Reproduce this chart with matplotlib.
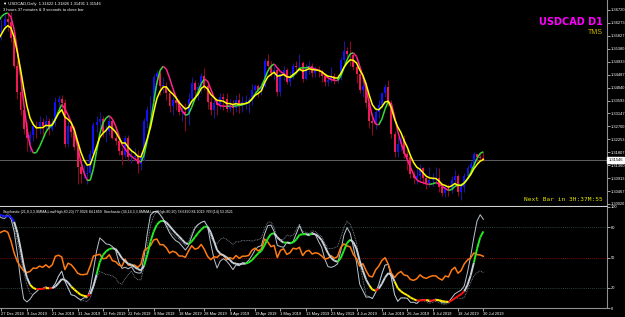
import matplotlib.pyplot as plt
from matplotlib.collections import LineCollection
import numpy as np
import pandas as pd

plt.rcParams["font.family"] = ["Liberation Sans", "DejaVu Sans"]

# Daily USDCAD bars, Oct 29 2018 .. Jul 30 2019 (first 42 bars are only history for the indicators)
closes = [
    1.3120, 1.3155, 1.3155, 1.3095, 1.3135, 1.3125, 1.3115, 1.3110, 1.3160, 1.3215,
    1.3250, 1.3225, 1.3240, 1.3160, 1.3130, 1.3160, 1.3265, 1.3240, 1.3250, 1.3245,
    1.3275, 1.3320, 1.3265, 1.3300, 1.3290, 1.3255, 1.3330, 1.3385, 1.3380, 1.3345,
    1.3375, 1.3365, 1.3340, 1.3370, 1.3390, 1.3420, 1.3440, 1.3520, 1.3560, 1.3600,
    1.3625, 1.3585,
    # Dec 27 ->
    1.3615, 1.3640, 1.3630, 1.3575, 1.3480, 1.3390, 1.3325, 1.3260, 1.3230, 1.3240,
    1.3270, 1.3265, 1.3285, 1.3270, 1.3290, 1.3260, 1.3280, 1.3355, 1.3365, 1.3350,
    1.3210, 1.3270, 1.3250, 1.3200, 1.3130, 1.3105, 1.3105, 1.3110, 1.3175, 1.3275,
    1.3285, 1.3295, 1.3250, 1.3255, 1.3290, 1.3230, 1.3220, 1.3185, 1.3170, 1.3230,
    1.3165, 1.3165, 1.3165, 1.3140, 1.3165, 1.3290, 1.3325, 1.3355, 1.3440, 1.3455,
    1.3410, 1.3410, 1.3385, 1.3340, 1.3360, 1.3350, 1.3320, 1.3320, 1.3310, 1.3365,
    1.3420, 1.3395, 1.3405, 1.3445, 1.3410, 1.3355, 1.3325, 1.3350, 1.3345, 1.3370,
    1.3365, 1.3330, 1.3345, 1.3335, 1.3360, 1.3340, 1.3355, 1.3355, 1.3360, 1.3395,
    1.3410, 1.3395, 1.3410, 1.3495, 1.3480, 1.3455, 1.3465, 1.3390, 1.3450, 1.3465,
    1.3425, 1.3440, 1.3480, 1.3475, 1.3490, 1.3435, 1.3470, 1.3480, 1.3455, 1.3465,
    1.3460, 1.3445, 1.3425, 1.3430, 1.3445, 1.3430, 1.3440, 1.3500, 1.3530, 1.3520,
    1.3515, 1.3475, 1.3450, 1.3395, 1.3410, 1.3350, 1.3290, 1.3280, 1.3320, 1.3345,
    1.3385, 1.3405, 1.3350, 1.3245, 1.3180, 1.3210, 1.3225, 1.3175, 1.3165, 1.3105,
    1.3090, 1.3100, 1.3125, 1.3090, 1.3075, 1.3085, 1.3090, 1.3090, 1.3060, 1.3040,
    1.3060, 1.3050, 1.3085, 1.3100, 1.3045, 1.3060, 1.3100, 1.3125, 1.3140, 1.3175,
    1.3165, 1.31622, 1.31546,
]
highs = [
    1.3135, 1.3170, 1.3170, 1.3160, 1.3145, 1.3150, 1.3140, 1.3135, 1.3175, 1.3225,
    1.3265, 1.3260, 1.3260, 1.3245, 1.3170, 1.3175, 1.3275, 1.3270, 1.3265, 1.3265,
    1.3290, 1.3330, 1.3325, 1.3310, 1.3310, 1.3285, 1.3345, 1.3390, 1.3445, 1.3400,
    1.3385, 1.3385, 1.3375, 1.3385, 1.3405, 1.3430, 1.3450, 1.3535, 1.3575, 1.3610,
    1.3640, 1.3660,
    1.3640, 1.3665, 1.3660, 1.3665, 1.3590, 1.3500, 1.3410, 1.3345, 1.3285, 1.3255,
    1.3285, 1.3290, 1.3305, 1.3300, 1.3310, 1.3300, 1.3300, 1.3370, 1.3380, 1.3380,
    1.3365, 1.3290, 1.3290, 1.3270, 1.3215, 1.3160, 1.3135, 1.3140, 1.3190, 1.3285,
    1.3305, 1.3320, 1.3305, 1.3275, 1.3310, 1.3290, 1.3240, 1.3230, 1.3195, 1.3240,
    1.3240, 1.3190, 1.3195, 1.3190, 1.3180, 1.3300, 1.3340, 1.3375, 1.3450, 1.3465,
    1.3470, 1.3440, 1.3425, 1.3395, 1.3375, 1.3375, 1.3365, 1.3340, 1.3350, 1.3385,
    1.3440, 1.3430, 1.3425, 1.3455, 1.3470, 1.3420, 1.3370, 1.3360, 1.3365, 1.3385,
    1.3385, 1.3385, 1.3365, 1.3360, 1.3380, 1.3385, 1.3375, 1.3380, 1.3370, 1.3415,
    1.3415, 1.3415, 1.3425, 1.3505, 1.3520, 1.3495, 1.3480, 1.3475, 1.3455, 1.3480,
    1.3470, 1.3460, 1.3490, 1.3495, 1.3520, 1.3495, 1.3485, 1.3495, 1.3490, 1.3480,
    1.3480, 1.3465, 1.3455, 1.3445, 1.3475, 1.3455, 1.3450, 1.3510, 1.3565, 1.3545,
    1.3565, 1.3525, 1.3490, 1.3460, 1.3430, 1.3425, 1.3360, 1.3305, 1.3335, 1.3360,
    1.3390, 1.3415, 1.3430, 1.3360, 1.3255, 1.3235, 1.3240, 1.3240, 1.3190, 1.3175,
    1.3115, 1.3125, 1.3140, 1.3130, 1.3100, 1.3130, 1.3110, 1.3130, 1.3125, 1.3075,
    1.3070, 1.3070, 1.3100, 1.3120, 1.3105, 1.3075, 1.3110, 1.3135, 1.3150, 1.3180,
    1.3175, 1.3180, 1.31826,
]
lows = [
    1.3080, 1.3105, 1.3130, 1.3080, 1.3070, 1.3110, 1.3100, 1.3085, 1.3100, 1.3150,
    1.3200, 1.3210, 1.3200, 1.3150, 1.3125, 1.3125, 1.3150, 1.3215, 1.3225, 1.3220,
    1.3235, 1.3260, 1.3255, 1.3260, 1.3270, 1.3235, 1.3250, 1.3320, 1.3360, 1.3320,
    1.3335, 1.3345, 1.3325, 1.3325, 1.3355, 1.3375, 1.3400, 1.3430, 1.3500, 1.3545,
    1.3580, 1.3570,
    1.3570, 1.3605, 1.3600, 1.3560, 1.3470, 1.3365, 1.3310, 1.3245, 1.3185, 1.3180,
    1.3220, 1.3230, 1.3245, 1.3240, 1.3250, 1.3240, 1.3255, 1.3270, 1.3320, 1.3320,
    1.3200, 1.3200, 1.3235, 1.3190, 1.3070, 1.3075, 1.3090, 1.3070, 1.3100, 1.3165,
    1.3250, 1.3260, 1.3235, 1.3215, 1.3240, 1.3225, 1.3205, 1.3170, 1.3135, 1.3160,
    1.3150, 1.3145, 1.3150, 1.3110, 1.3120, 1.3150, 1.3265, 1.3310, 1.3340, 1.3415,
    1.3380, 1.3385, 1.3360, 1.3320, 1.3310, 1.3325, 1.3310, 1.3290, 1.3255, 1.3275,
    1.3345, 1.3370, 1.3360, 1.3385, 1.3395, 1.3330, 1.3310, 1.3300, 1.3310, 1.3330,
    1.3325, 1.3320, 1.3320, 1.3310, 1.3320, 1.3315, 1.3320, 1.3330, 1.3315, 1.3345,
    1.3385, 1.3370, 1.3380, 1.3405, 1.3460, 1.3445, 1.3430, 1.3375, 1.3375, 1.3430,
    1.3415, 1.3410, 1.3435, 1.3450, 1.3460, 1.3425, 1.3430, 1.3450, 1.3440, 1.3440,
    1.3440, 1.3425, 1.3410, 1.3410, 1.3425, 1.3415, 1.3420, 1.3430, 1.3490, 1.3500,
    1.3480, 1.3465, 1.3420, 1.3385, 1.3370, 1.3335, 1.3265, 1.3240, 1.3260, 1.3300,
    1.3335, 1.3370, 1.3340, 1.3230, 1.3165, 1.3165, 1.3185, 1.3160, 1.3120, 1.3090,
    1.3070, 1.3070, 1.3085, 1.3070, 1.3055, 1.3060, 1.3065, 1.3070, 1.3045, 1.3030,
    1.3025, 1.3030, 1.3040, 1.3065, 1.3030, 1.3015, 1.3045, 1.3090, 1.3110, 1.3125,
    1.3140, 1.3150, 1.31491,
]
history_bars = 42

price_ticks = [1.36720, 1.36273, 1.35827, 1.35380, 1.34933, 1.34487, 1.34040, 1.33593,
               1.33147, 1.32700, 1.32253, 1.31807, 1.31360, 1.30913, 1.30467, 1.30020]
osc_ticks = [0, 20, 50, 80, 100]

dates = pd.bdate_range("2018-10-29", "2019-07-30")
dates = dates[~dates.isin(pd.to_datetime(["2018-12-25", "2019-01-01"]))]

df = pd.DataFrame({"close": closes, "high": highs, "low": lows}, index=dates)
df["open"] = df.close.shift(1).fillna(df.close.iloc[0])
df["x"] = np.arange(len(df)) - history_bars


# --- indicators computed from the bars ---
def lwma(s, n):
    w = np.arange(1, n + 1, dtype=float)
    return s.rolling(n, min_periods=1).apply(
        lambda v: np.dot(v, w[-len(v):]) / w[-len(v):].sum(), raw=True)


def hma(s, n):
    return lwma(2 * lwma(s, n // 2) - lwma(s, n), int(np.sqrt(n)))


def stochastic(d, k, slowing, period):
    ll = d.low.rolling(k, min_periods=1).min()
    hh = d.high.rolling(k, min_periods=1).max()
    main = 100 * (d.close - ll).rolling(slowing, min_periods=1).sum() / \
        (hh - ll).rolling(slowing, min_periods=1).sum()
    signal = main.ewm(alpha=1 / period, adjust=False).mean()
    return main, signal


def rsi(s, n=14):
    delta = s.diff()
    up = delta.clip(lower=0).ewm(alpha=1 / n, adjust=False).mean()
    down = (-delta.clip(upper=0)).ewm(alpha=1 / n, adjust=False).mean()
    return 100 - 100 / (1 + up / down)


df["fast"] = hma(df.close, 12)
df["slow"] = lwma(df.close, 7)
df["k1"], df["d1"] = stochastic(df, 21, 3, 3)
df["k2"], df["d2"] = stochastic(df, 34, 3, 8)
df["rsi"] = rsi(df.close, 14)

W, H = 625, 317
fig = plt.figure(figsize=(W / 100, H / 100), dpi=100, facecolor="black")
ax = fig.add_axes([0, (H - 206) / H, 607 / W, 206 / H], facecolor="black")
ax2 = fig.add_axes([0, (H - 308) / H, 607 / W, 101 / H], facecolor="black", sharex=ax)

# --- candles ---
up = df.close >= df.open
ax.vlines(df.x[up], df.low[up], df.high[up], color="#1a1a8c", lw=0.8, zorder=2)
ax.vlines(df.x[~up], df.low[~up], df.high[~up], color="#8b0a1e", lw=0.8, zorder=2)
body_lo = np.minimum(df.open, df.close)
body_h = np.maximum(np.abs(df.close - df.open), 0.0002)
ax.bar(df.x[up], body_h[up], bottom=body_lo[up], width=0.62, color="#1010ff", lw=0, zorder=3)
ax.bar(df.x[~up], body_h[~up], bottom=body_lo[~up], width=0.62, color="#ee1a55", lw=0, zorder=3)

# fast MA: green rising, pink falling
xs = df.x.values
fast = df.fast.values
pts = np.column_stack([xs, fast])
segs = np.stack([pts[:-1], pts[1:]], axis=1)
cols = ["#33dd33" if b > a else "#ff2288" for a, b in zip(fast[:-1], fast[1:])]
ax.add_collection(LineCollection(segs, colors=cols, linewidths=1.1, zorder=4))
ax.plot(xs, df.slow, color="#ffff00", lw=1.1, zorder=5)

last = df.close.iloc[-1]
ax.axhline(last, color="#707070", lw=0.6, zorder=1)

ax.set_xlim(-0.47, 191.0)
ax.set_ylim(1.29950, 1.37065)
ax.yaxis.tick_right()
ax.set_yticks(price_ticks)
ax.set_yticklabels([f"{t:.5f}" for t in price_ticks])
ax.tick_params(axis="y", colors="#c0c0c0", labelcolor="white", labelsize=2.9,
               length=2, width=0.6, pad=0.8)
ax.tick_params(axis="x", bottom=False, labelbottom=False)
for s in ["top", "left"]:
    ax.spines[s].set_visible(False)
ax.spines["right"].set_color("#909090")
ax.spines["bottom"].set_color("#d0d0d0")
ax.spines["bottom"].set_linewidth(0.8)

ax.text(1.002, last, f"{last:.5f}", transform=ax.get_yaxis_transform(), fontsize=2.9,
        color="black", va="center", ha="left", zorder=10, clip_on=False,
        bbox=dict(boxstyle="square,pad=0.2", fc="white", ec="white"))

ax.text(0.005, 0.992, "\u25bc USDCAD,Daily  1.31622 1.31826 1.31491 1.31546",
        transform=ax.transAxes, fontsize=3.0, color="white", va="top", ha="left")
ax.text(0.005, 0.962, "3 hours 37 minutes & 9 seconds to close bar",
        transform=ax.transAxes, fontsize=3.0, color="white", va="top", ha="left")
ax.text(0.993, 0.895, "USDCAD D1", transform=ax.transAxes, fontsize=7,
        fontweight="bold", color="#ff00ff", ha="right", va="center",
        family="DejaVu Sans")
ax.text(0.993, 0.84, "TMS", transform=ax.transAxes, fontsize=5,
        color="#c8b400", ha="right", va="center")
ax.text(0.993, 0.02, "Next Bar in 3H:37M:55", transform=ax.transAxes, fontsize=4.4,
        color="#e6e600", ha="right", va="bottom", family="DejaVu Sans Mono")

# --- oscillator window ---
for lvl, c in [(80, "#3a5a48"), (20, "#3a5a48"), (50, "#a01010")]:
    ax2.axhline(lvl, color=c, lw=0.6, ls=(0, (1, 1.5)), zorder=1)

ax2.plot(xs, df.k2, color="#8a94a0", lw=0.6, ls=(0, (1, 1)), zorder=2)
ax2.plot(xs, df.k1, color="#b8c4d0", lw=0.7, zorder=3)
ax2.plot(xs, df.rsi, color="#ff7a10", lw=1.1, zorder=4)

d1 = df.d1.values
d2 = df.d2.values
segs = []
cols = []
for i in range(len(xs) - 1):
    a, b = d1[i], d1[i + 1]
    if b > 80 and d2[i + 1] > 80:
        c = "#1a1aff"
    elif b < 20 and b < a:
        c = "#ffee00"
    elif b < 20:
        c = "#ff1010"
    elif b > a and b > 45:
        c = "#22ee22"
    else:
        c = "#c8d0d8"
    segs.append([(xs[i], a), (xs[i + 1], b)])
    cols.append(c)
ax2.add_collection(LineCollection(segs, colors=cols, linewidths=1.4, zorder=5))

ax2.set_ylim(0, 100)
ax2.yaxis.tick_right()
ax2.set_yticks(osc_ticks)
ax2.tick_params(axis="y", colors="#c0c0c0", labelcolor="white", labelsize=2.9,
                length=2, width=0.6, pad=0.8)

vis = df[df.x >= 0]
tick_rows = vis.iloc[::8]
ax2.set_xticks(tick_rows.x)
ax2.set_xticklabels([f"{d.day} {d:%b %Y}" for d in tick_rows.index], ha="left")
ax2.tick_params(axis="x", colors="#c0c0c0", labelcolor="white", labelsize=2.9,
                length=2, width=0.6, pad=1.2)
for s in ["top", "left"]:
    ax2.spines[s].set_visible(False)
ax2.spines["right"].set_color("#909090")
ax2.spines["bottom"].set_color("#909090")

ax2.text(0.005, 0.975,
         "Stochastic (21,8,3,3,SMMA,Low/High,80,20) 77.9026 84.1859  "
         "Stochastic (34,14,3,3,SMMA,Low/High,80,20) 78.6490 84.1019  RSI(14) 53.3521",
         transform=ax2.transAxes, fontsize=2.6, color="white", va="top", ha="left")

fig.savefig("out.png", dpi=100, facecolor="black")
